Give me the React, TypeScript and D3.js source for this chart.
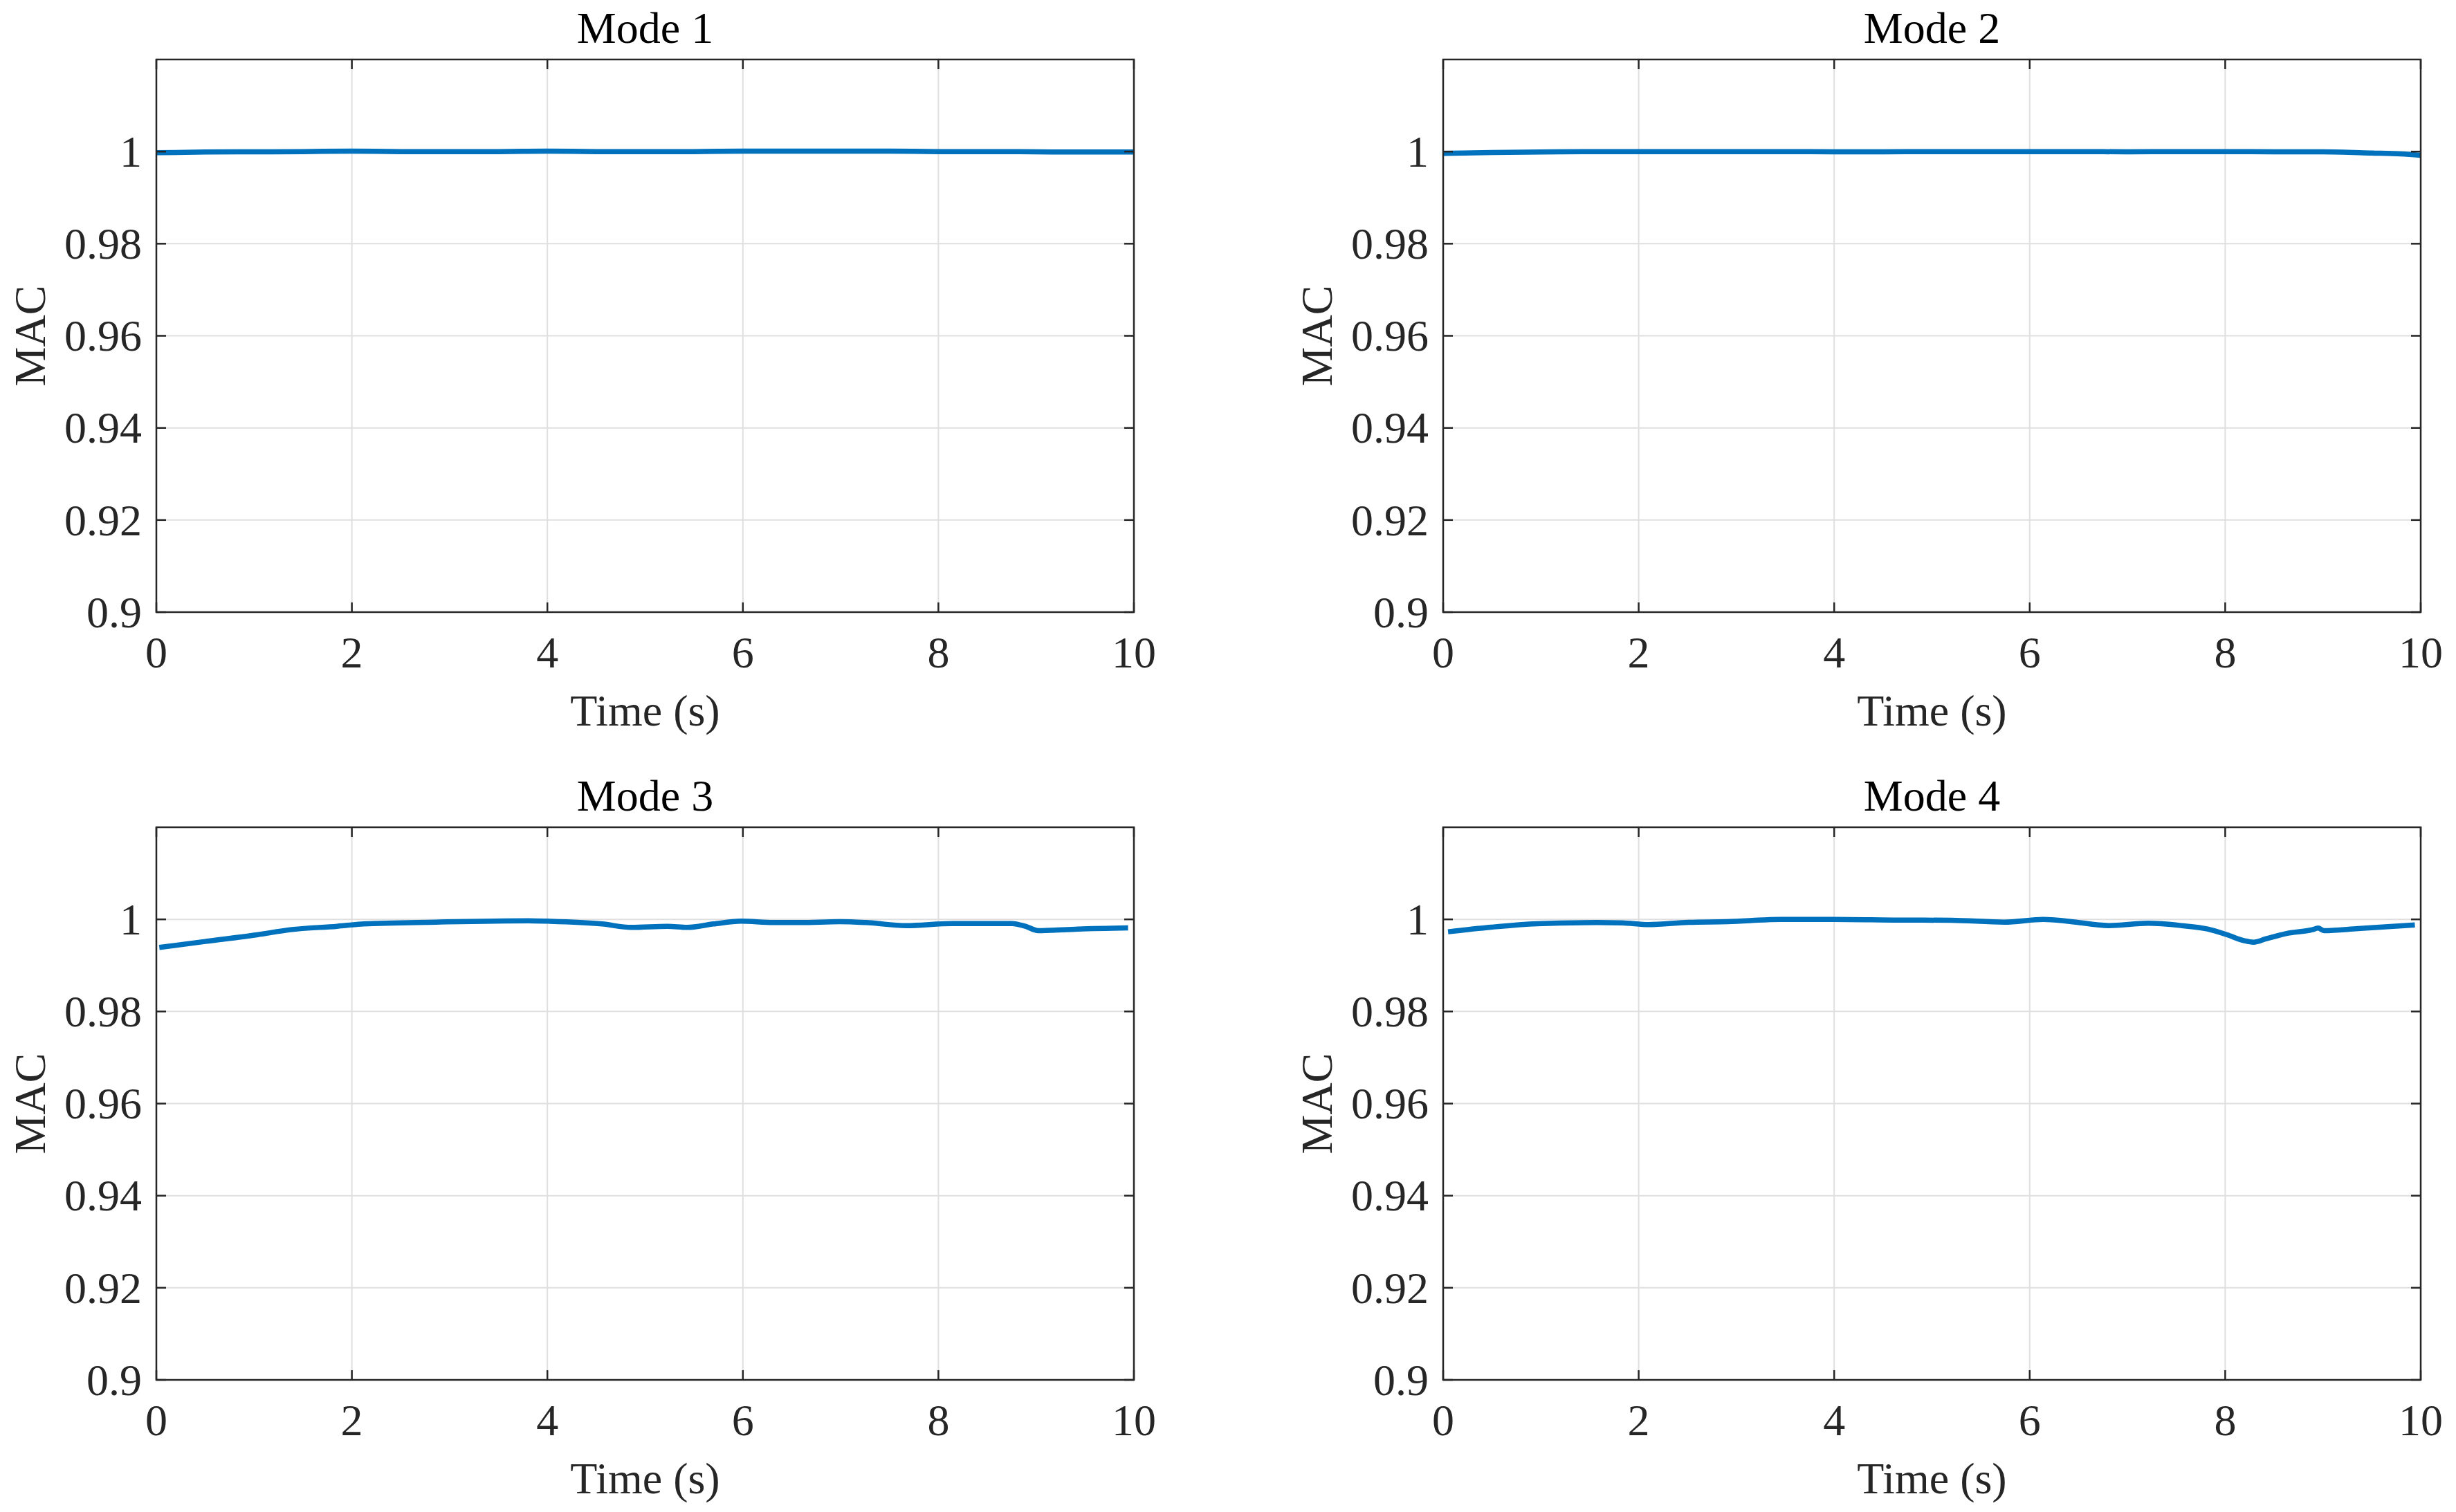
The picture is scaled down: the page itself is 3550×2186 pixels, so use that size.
import React from "react";
import * as d3 from "d3";

// ---- Data ----
const xTicks = [0, 2, 4, 6, 8, 10];
const yTicks = [0.9, 0.92, 0.94, 0.96, 0.98, 1];
const yTickLabels = ["0.9", "0.92", "0.94", "0.96", "0.98", "1"];
const modeTitles = ["Mode 1", "Mode 2", "Mode 3", "Mode 4"];

const mode1Time = [0, 0.5, 1, 1.5, 2, 2.5, 3, 3.5, 4, 4.5, 5, 5.5, 6, 6.5, 7, 7.5, 8, 8.5, 9, 9.5, 10];
const mode1MAC = [0.99975, 0.9999, 0.99995, 1.0, 1.0001, 1.0, 1.0, 1.0, 1.0001, 1.0, 1.0, 1.0, 1.0001, 1.0001, 1.0001, 1.0001, 1.0, 1.0, 0.99995, 0.9999, 0.9999];

const mode2Time = [0, 0.5, 1, 1.5, 2, 2.5, 3, 3.5, 4, 4.5, 5, 5.5, 6, 6.5, 7, 7.5, 8, 8.5, 9, 9.5, 9.8, 10];
const mode2MAC = [0.9996, 0.9998, 0.9999, 1.0, 1.0, 1.0, 1.0, 1.0, 0.99995, 0.99995, 1.0, 1.0, 1.0, 1.0, 0.99995, 1.0, 1.0, 0.99995, 0.99995, 0.9997, 0.9995, 0.9992];

const mode3Time = [0.03, 0.5, 1.03, 1.37, 1.85, 2.12, 2.86, 3.81, 4.01, 4.56, 4.86, 5.23, 5.43, 5.7, 5.98, 6.31, 6.59, 6.99, 7.26, 7.67, 8.14, 8.75, 8.89, 9.02, 9.43, 9.94];
const mode3MAC = [0.9939, 0.9952, 0.99664, 0.99775, 0.9985, 0.999, 0.9994, 0.9997, 0.9996, 0.999, 0.99825, 0.9985, 0.99825, 0.999, 0.9996, 0.9993, 0.9993, 0.9995, 0.9993, 0.99865, 0.9991, 0.9991, 0.9985, 0.99755, 0.9979, 0.99815];

const mode4Time = [0.05, 0.49, 0.96, 1.57, 1.83, 2.1, 2.51, 2.91, 3.45, 3.99, 4.66, 5.2, 5.74, 6.14, 6.41, 6.81, 7.21, 7.55, 7.82, 8.02, 8.19, 8.29, 8.42, 8.62, 8.89, 8.95, 9.01, 9.36, 9.94];
const mode4MAC = [0.9973, 0.9983, 0.99905, 0.9993, 0.99925, 0.99885, 0.99935, 0.9995, 1.0, 1.0, 0.99985, 0.9998, 0.9994, 1.0, 0.99955, 0.99865, 0.99915, 0.99865, 0.9979, 0.99665, 0.9954, 0.99505, 0.9958, 0.9969, 0.99775, 0.9981, 0.99755, 0.998, 0.9988];

const modeTimes = [mode1Time, mode2Time, mode3Time, mode4Time];
const modeValues = [mode1MAC, mode2MAC, mode3MAC, mode4MAC];

// ---- Layout ----
const W = 3550;
const H = 2186;
const PW = 1413;
const PH = 799;
const panelPos = [
  { left: 226, top: 86 },
  { left: 2086, top: 86 },
  { left: 226, top: 1196 },
  { left: 2086, top: 1196 },
];
const FONT = "'Liberation Serif', 'Times New Roman', Times, serif";
const FS = 64;
const AXIS = "#262626";
const GRID = "#dfdfdf";
const LINE = "#0072BD";

function Panel({ idx }: { idx: number }) {
  const { left, top } = panelPos[idx];
  const x = d3.scaleLinear().domain([0, 10]).range([0, PW]);
  const y = d3.scaleLinear().domain([0.9, 1.02]).range([PH, 0]);
  const pts: [number, number][] = modeTimes[idx].map((t, i) => [t, modeValues[idx][i]]);
  const line = d3
    .line<[number, number]>()
    .x((d) => x(d[0]))
    .y((d) => y(d[1]))
    .curve(d3.curveMonotoneX);
  const tick = 14;
  return (
    <g transform={`translate(${left},${top})`}>
      {xTicks.map((t) => (
        <line key={"gx" + t} x1={x(t)} x2={x(t)} y1={0} y2={PH} stroke={GRID} strokeWidth={2} />
      ))}
      {yTicks.map((t) => (
        <line key={"gy" + t} x1={0} x2={PW} y1={y(t)} y2={y(t)} stroke={GRID} strokeWidth={2} />
      ))}
      <path d={line(pts) || ""} fill="none" stroke={LINE} strokeWidth={7.5} strokeLinejoin="round" />
      <rect x={0} y={0} width={PW} height={PH} fill="none" stroke={AXIS} strokeWidth={2.5} />
      {xTicks.map((t) => (
        <g key={"tx" + t}>
          <line x1={x(t)} x2={x(t)} y1={PH} y2={PH - tick} stroke={AXIS} strokeWidth={2.5} />
          <line x1={x(t)} x2={x(t)} y1={0} y2={tick} stroke={AXIS} strokeWidth={2.5} />
          <text x={x(t)} y={PH + 80} textAnchor="middle" fontFamily={FONT} fontSize={FS} fill={AXIS}>
            {t}
          </text>
        </g>
      ))}
      {yTicks.map((t, i) => (
        <g key={"ty" + t}>
          <line x1={0} x2={tick} y1={y(t)} y2={y(t)} stroke={AXIS} strokeWidth={2.5} />
          <line x1={PW} x2={PW - tick} y1={y(t)} y2={y(t)} stroke={AXIS} strokeWidth={2.5} />
          <text x={-21} y={y(t)} dy="0.34em" textAnchor="end" fontFamily={FONT} fontSize={FS} fill={AXIS}>
            {yTickLabels[i]}
          </text>
        </g>
      ))}
      <text x={PW / 2} y={PH + 164} textAnchor="middle" fontFamily={FONT} fontSize={FS} fill={AXIS}>
        Time (s)
      </text>
      <text
        transform={`translate(-161,${PH / 2}) rotate(-90)`}
        textAnchor="middle"
        fontFamily={FONT}
        fontSize={FS}
        fill={AXIS}
      >
        MAC
      </text>
      <text x={PW / 2} y={-24} textAnchor="middle" fontFamily={FONT} fontSize={FS} fill="#000">
        {modeTitles[idx]}
      </text>
    </g>
  );
}

export default function App() {
  return (
    <svg
      width={W}
      height={H}
      viewBox={`0 0 ${W} ${H}`}
      style={{ position: "absolute", left: 0, top: 0, background: "#fff" }}
    >
      <rect x={0} y={0} width={W} height={H} fill="#fff" />
      {[0, 1, 2, 3].map((i) => (
        <Panel key={i} idx={i} />
      ))}
    </svg>
  );
}
